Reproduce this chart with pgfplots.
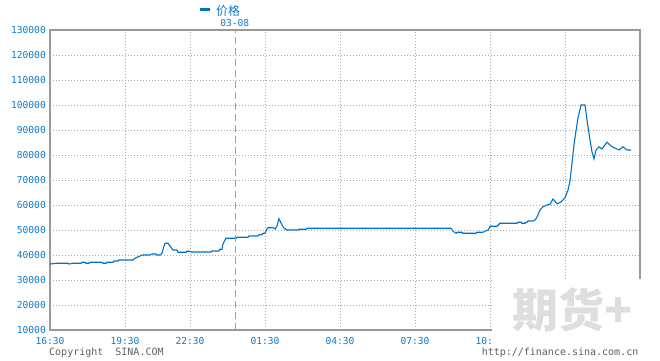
\documentclass[border=0pt]{standalone}
\usepackage{pgfplots}
\pgfplotsset{compat=1.18}
\usepackage{fontspec}
\setmonofont{DejaVu Sans Mono}
\newfontfamily\cjk{Noto Sans CJK SC}
\definecolor{sinablue}{RGB}{0,114,198}
\definecolor{txtblue}{RGB}{14,122,204}
\definecolor{gridgray}{RGB}{170,170,170}
\definecolor{framegray}{RGB}{153,153,153}
\definecolor{wmgray}{RGB}{222,222,222}
\definecolor{cpgray}{RGB}{95,95,95}
\begin{document}
\begin{tikzpicture}[x=1pt,y=1pt]
\path[use as bounding box] (-50,-30) rectangle (610,330);
\begin{axis}[
  at={(0,0)}, anchor=south west,
  width=590pt, height=300pt, scale only axis,
  xmin=0, xmax=590, ymin=10000, ymax=130000,
  xtick={0,75,140,215,290,365,440,515},
  xticklabels={16:30,19:30,22:30,01:30,04:30,07:30,10:30,{}},
  ytick={10000,20000,30000,40000,50000,60000,70000,80000,90000,100000,110000,120000,130000},
  scaled y ticks=false,
  yticklabel={\pgfmathprintnumber[fixed,precision=0,1000 sep={},assume math mode=true]{\tick}},
  major tick length=0pt,
  tick label style={font=\ttfamily\fontsize{9.6}{10}\selectfont, text=txtblue, inner sep=0pt},
  xticklabel style={anchor=north, yshift=-7pt},
  yticklabel style={anchor=east, xshift=-4pt},
  grid=major,
  major grid style={draw=gridgray, line width=0.9pt, dash pattern=on 1pt off 2pt},
  axis line style={draw=framegray, line width=1.1pt},
  clip=false,
]
\addplot[sinablue, line width=1.1pt] coordinates {
(0,36400) (7,36700) (18,36700) (19,36400) (23,36700) (31,36700) (32,37100) (35,37100)
(36,36700) (39,36700) (40,37100) (52,37100) (53,36700) (56,36700) (57,37100) (63,37100)
(64,37600) (68,37600) (69,38000) (83,38000) (85,38700) (90,39600) (92,40000) (100,40000)
(102,40400) (106,40400) (107,40000) (110,40000) (112,40700) (114,43600) (115,44700) (118,44700)
(121,43100) (123,42000) (127,42000) (128,41100) (136,41100) (137,41500) (140,41500) (141,41200)
(161,41200) (162,41600) (169,41600) (170,42300) (172,42300) (173,44500) (176,46700) (186,46700)
(187,47100) (198,47100) (199,47600) (208,47600) (209,48100) (212,48100) (213,48700) (215,48700)
(217,50400) (218,50900) (223,50900) (225,50400) (227,51600) (229,54500) (232,52000) (234,50700)
(237,50000) (248,50000) (249,50300) (256,50300) (257,50700) (401,50700) (403,49500) (406,48700)
(407,49100) (412,49100) (413,48700) (426,48700) (427,49100) (433,49100) (436,49700) (438,49900)
(440,51500) (447,51500) (450,52700) (467,52700) (468,53100) (471,53100) (472,52700) (475,52700)
(476,53100) (477,53100) (478,53600) (483,53600) (485,54000) (487,55200) (490,58000) (493,59300)
(497,60000) (500,60300) (503,62400) (507,60500) (511,61200) (515,62900) (518,66000) (520,69600)
(522,76800) (524,84000) (526,89600) (528,94800) (531,100000) (535,100000) (537,94000) (540,86000)
(542,81200) (544,78400) (546,82000) (549,83300) (552,82400) (557,85100) (562,83300) (567,82400)
(569,82000) (573,83300) (577,82000) (581,82000)
};
\draw[draw=gray!75, line width=1pt, dash pattern=on 7pt off 4pt]
  (axis cs:185.7,10000) -- (axis cs:185.7,130000);
\end{axis}
% watermark area cover
\fill[white] (442,-30) rectangle (612,51.5);
\node[text=wmgray, inner sep=0pt, anchor=center] at (522,20)
  {\cjk\bfseries\fontsize{46}{46}\selectfont 期货+};
% legend
\draw[sinablue, line width=3pt] (150,320.5) -- (159.5,320.5);
\node[anchor=west, inner sep=0pt, text=txtblue] at (166,319.5)
  {\cjk\fontsize{12}{12}\selectfont 价格};
\node[anchor=center, inner sep=0pt, text=txtblue] at (184.7,307.3)
  {\ttfamily\fontsize{9.6}{10}\selectfont 03-08};
% footer
\node[anchor=base west, inner sep=0pt, text=cpgray] at (-1,-25)
  {\ttfamily\fontsize{10}{10}\selectfont Copyright\ \ SINA.COM};
\node[anchor=base east, inner sep=0pt, text=cpgray] at (588.5,-25)
  {\ttfamily\fontsize{10}{10}\selectfont http://finance.sina.com.cn};
\end{tikzpicture}
\end{document}
